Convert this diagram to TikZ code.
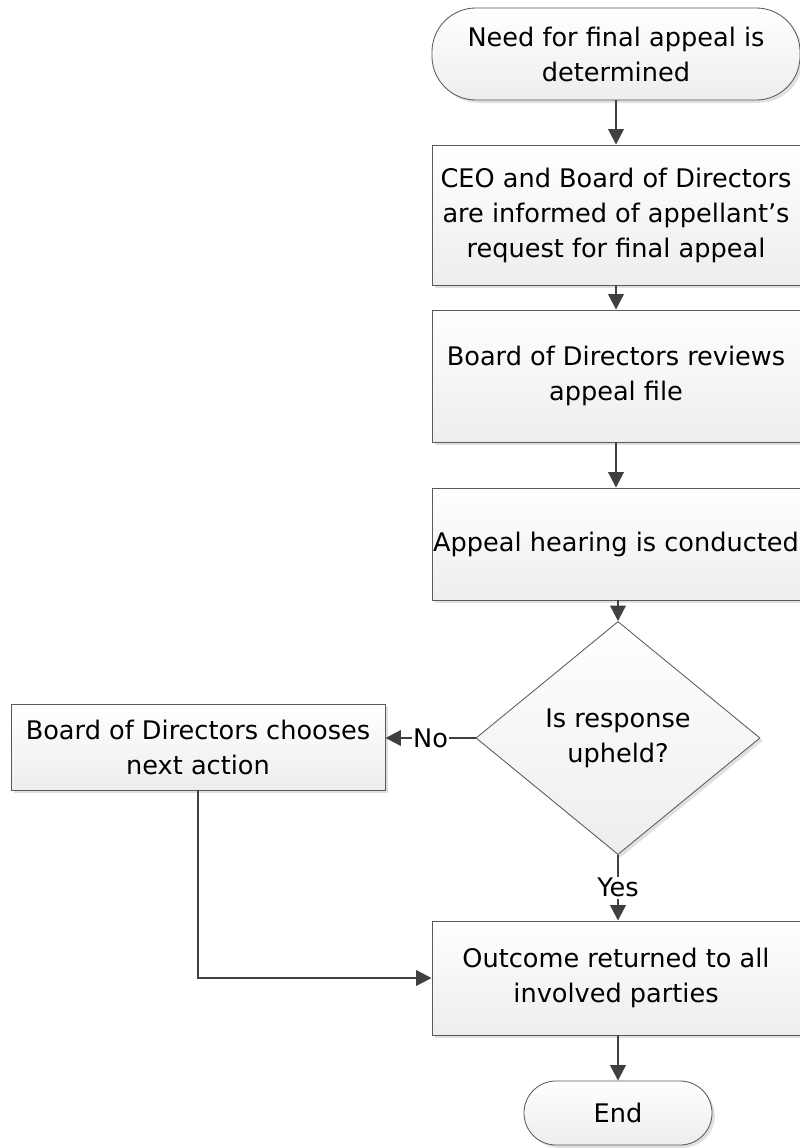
\documentclass[tikz,border=0pt]{standalone}
\usepackage{fontspec}
\setmainfont{DejaVu Sans}
\usepackage{tikz}
\usetikzlibrary{arrows.meta,shapes,shadows,positioning,calc}
\definecolor{edgegray}{HTML}{5A5A5A}
\definecolor{flowgray}{HTML}{404040}
\tikzset{
    box/.style={draw=edgegray, line width=0.6pt, top color=white, bottom color=black!7,
        drop shadow={shadow xshift=2pt, shadow yshift=-2pt, fill=black!12, opacity=1},
        align=center, inner sep=0pt, font=\fontsize{18.2}{24.9}\selectfont},
    process/.style={box, rectangle, minimum width=9.2cm},
    terminal/.style={box, rectangle, rounded corners=1.1cm},
    decision/.style={box, diamond, minimum width=7.1cm, minimum height=5.825cm},
    flow/.style={draw=flowgray, line width=1.6pt, -{Triangle[length=11pt,width=11pt]}},
    answer/.style={fill=white, inner sep=1pt, font=\fontsize{18.2}{24.9}\selectfont}
}
\begin{document}
\begin{tikzpicture}[x=0.025cm, y=-0.025cm]
    \useasboundingbox (0,0) rectangle (800,1148);

    % Main column
    \node[terminal, minimum width=9.2cm, minimum height=2.3cm] (need) at (616,54)
        {Need for final appeal is\\determined};
    \node[process, minimum height=3.5cm] (inform) at (616,215)
        {CEO and Board of Directors\\are informed of appellant's\\request for final appeal};
    \node[process, minimum height=3.3cm] (review) at (616,376)
        {Board of Directors reviews\\appeal file};
    \node[process, minimum height=2.8cm] (hearing) at (616,544)
        {Appeal hearing is conducted};
    \node[decision] (upheld) at (618,738) {Is response\\upheld?};
    \node[process, minimum height=2.85cm] (outcome) at (616,978)
        {Outcome returned to all\\involved parties};
    \node[terminal, minimum width=4.7cm, minimum height=1.6cm, rounded corners=0.8cm] (end) at (618,1113)
        {End};

    % Side branch
    \node[process, minimum width=9.35cm, minimum height=2.15cm] (choose) at (198,747)
        {Board of Directors chooses\\next action};

    % Connectors
    \draw[flow] (need) -- (inform);
    \draw[flow] (inform) -- (review);
    \draw[flow] (review) -- (hearing);
    \draw[flow] (hearing.south -| upheld.north) -- (upheld.north);
    \draw[flow] (upheld.west) -- node[answer] {No} (upheld.west -| choose.east);
    \draw[flow] (upheld.south) -- node[answer] {Yes} (upheld.south |- outcome.north);
    \draw[flow] (choose.south) |- (outcome.west);
    \draw[flow] (outcome.south -| end.north) -- (end.north);
\end{tikzpicture}
\end{document}
